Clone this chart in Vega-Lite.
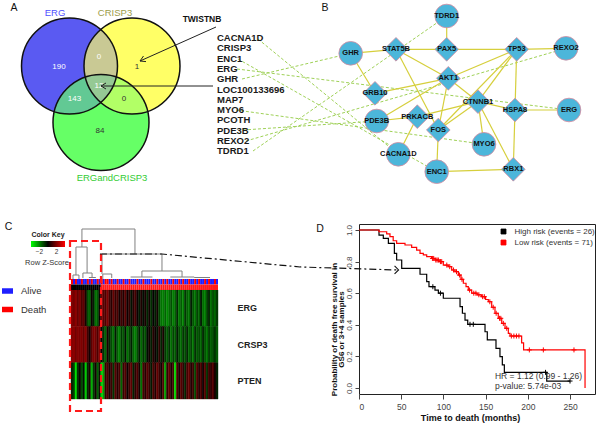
{
  "$schema": "https://vega.github.io/schema/vega-lite/v6.json",
  "padding": 0,
  "background": "white",
  "bounds": "flush",
  "spacing": 0,
  "resolve": {
    "scale": {"color": "independent", "fill": "independent", "stroke": "independent", "shape": "independent"},
    "legend": {"color": "independent", "fill": "independent", "stroke": "independent", "shape": "independent"}
  },
  "config": {"view": {"stroke": null}, "font": "Liberation Sans", "concat": {"spacing": 0}},
  "datasets": {
    "venn": [
      {"set": "ERG", "x": 69.5, "y": 66},
      {"set": "ERGandCRISP3", "x": 101, "y": 122.5},
      {"set": "CRISP3", "x": 132, "y": 66}
    ],
    "vennLabels": [
      {"set": "ERG", "x": 55, "y": 13},
      {"set": "CRISP3", "x": 115, "y": 13},
      {"set": "ERGandCRISP3", "x": 112, "y": 178}
    ],
    "vennCounts": [
      {"n": "190", "x": 59, "y": 67, "inERG": true},
      {"n": "0", "x": 99, "y": 57, "inERG": true},
      {"n": "1", "x": 137, "y": 67, "inERG": false},
      {"n": "12", "x": 99, "y": 86, "inERG": true},
      {"n": "143", "x": 74.5, "y": 99, "inERG": true},
      {"n": "0", "x": 124, "y": 99, "inERG": false},
      {"n": "84", "x": 100, "y": 131, "inERG": false}
    ],
    "arrows": [
      {"x": 216, "y": 27, "x2": 140, "y2": 61},
      {"x": 140, "y": 61, "x2": 146, "y2": 61.6},
      {"x": 140, "y": 61, "x2": 143.5, "y2": 56},
      {"x": 213, "y": 86, "x2": 101, "y2": 86},
      {"x": 101, "y": 86, "x2": 106, "y2": 83},
      {"x": 101, "y": 86, "x2": 106, "y2": 89}
    ],
    "genes": [
      {"gene": "CACNA1D", "x": 217, "y": 38},
      {"gene": "CRISP3", "x": 217, "y": 48.3},
      {"gene": "ENC1", "x": 217, "y": 58.6},
      {"gene": "ERG", "x": 217, "y": 68.9},
      {"gene": "GHR", "x": 217, "y": 79.2},
      {"gene": "LOC100133696", "x": 217, "y": 89.5},
      {"gene": "MAP7", "x": 217, "y": 99.8},
      {"gene": "MYO6", "x": 217, "y": 110.1},
      {"gene": "PCOTH", "x": 217, "y": 120.4},
      {"gene": "PDE3B", "x": 217, "y": 130.7},
      {"gene": "REXO2", "x": 217, "y": 141},
      {"gene": "TDRD1", "x": 217, "y": 151.3}
    ],
    "links": [
      {"gene": "CACNA1D", "x": 258, "y": 39},
      {"gene": "ENC1", "x": 238, "y": 59},
      {"gene": "ERG", "x": 237, "y": 69},
      {"gene": "GHR", "x": 242, "y": 79},
      {"gene": "MYO6", "x": 236, "y": 110},
      {"gene": "PDE3B", "x": 243, "y": 130},
      {"gene": "REXO2", "x": 246, "y": 141},
      {"gene": "TDRD1", "x": 253, "y": 151}
    ],
    "nodes": [
      {"id": "TDRD1", "x": 446.7, "y": 16, "kind": "seed"},
      {"id": "GHR", "x": 350.7, "y": 53.3, "kind": "seed"},
      {"id": "STAT5B", "x": 396, "y": 49.3, "kind": "linker"},
      {"id": "PAX5", "x": 446.7, "y": 49.3, "kind": "linker"},
      {"id": "TP53", "x": 516.7, "y": 49.3, "kind": "linker"},
      {"id": "REXO2", "x": 566, "y": 48.3, "kind": "seed"},
      {"id": "AKT1", "x": 448.3, "y": 78.3, "kind": "linker"},
      {"id": "GRB10", "x": 375, "y": 93.3, "kind": "linker"},
      {"id": "CTNNB1", "x": 478, "y": 101.7, "kind": "linker"},
      {"id": "HSPA8", "x": 515, "y": 110, "kind": "linker"},
      {"id": "ERG", "x": 569, "y": 110, "kind": "seed"},
      {"id": "PDE3B", "x": 376.7, "y": 121, "kind": "seed"},
      {"id": "PRKACB", "x": 417.3, "y": 116.7, "kind": "linker"},
      {"id": "FOS", "x": 438.3, "y": 130, "kind": "linker"},
      {"id": "MYO6", "x": 484, "y": 144.3, "kind": "seed"},
      {"id": "CACNA1D", "x": 398.3, "y": 154.3, "kind": "seed"},
      {"id": "ENC1", "x": 436.7, "y": 171.7, "kind": "seed"},
      {"id": "RBX1", "x": 513.3, "y": 169.3, "kind": "linker"}
    ],
    "edges": [
      {"source": "TDRD1", "target": "PAX5"},
      {"source": "GHR", "target": "STAT5B"},
      {"source": "STAT5B", "target": "PAX5"},
      {"source": "PAX5", "target": "TP53"},
      {"source": "TP53", "target": "REXO2"},
      {"source": "GHR", "target": "GRB10"},
      {"source": "STAT5B", "target": "AKT1"},
      {"source": "STAT5B", "target": "FOS"},
      {"source": "GRB10", "target": "AKT1"},
      {"source": "AKT1", "target": "TP53"},
      {"source": "AKT1", "target": "CTNNB1"},
      {"source": "AKT1", "target": "PDE3B"},
      {"source": "AKT1", "target": "FOS"},
      {"source": "TP53", "target": "CTNNB1"},
      {"source": "TP53", "target": "FOS"},
      {"source": "TP53", "target": "HSPA8"},
      {"source": "CTNNB1", "target": "PRKACB"},
      {"source": "CTNNB1", "target": "FOS"},
      {"source": "CTNNB1", "target": "HSPA8"},
      {"source": "CTNNB1", "target": "MYO6"},
      {"source": "CTNNB1", "target": "RBX1"},
      {"source": "HSPA8", "target": "ERG"},
      {"source": "HSPA8", "target": "RBX1"},
      {"source": "PDE3B", "target": "PRKACB"},
      {"source": "PRKACB", "target": "CACNA1D"},
      {"source": "FOS", "target": "ENC1"},
      {"source": "ENC1", "target": "RBX1"}
    ],
    "samples": [
      {"i": 0, "status": "Death", "cluster": "Cluster 1", "ERG": 2.0, "CRSP3": 2.0, "PTEN": -0.5},
      {"i": 1, "status": "Alive", "cluster": "Cluster 1", "ERG": 1.8, "CRSP3": 2.2, "PTEN": -1.0},
      {"i": 2, "status": "Death", "cluster": "Cluster 1", "ERG": 2.2, "CRSP3": 1.8, "PTEN": -3.5},
      {"i": 3, "status": "Alive", "cluster": "Cluster 1", "ERG": 1.6, "CRSP3": 2.1, "PTEN": -0.8},
      {"i": 4, "status": "Alive", "cluster": "Cluster 1", "ERG": 2.0, "CRSP3": 1.9, "PTEN": 0.2},
      {"i": 5, "status": "Death", "cluster": "Cluster 1", "ERG": 1.2, "CRSP3": 2.0, "PTEN": -1.2},
      {"i": 6, "status": "Alive", "cluster": "Cluster 1", "ERG": 1.5, "CRSP3": 1.6, "PTEN": -0.3},
      {"i": 7, "status": "Alive", "cluster": "Cluster 1", "ERG": 0.4, "CRSP3": 2.2, "PTEN": -3.2},
      {"i": 8, "status": "Death", "cluster": "Cluster 1", "ERG": -1.2, "CRSP3": 1.0, "PTEN": -0.6},
      {"i": 9, "status": "Alive", "cluster": "Cluster 1", "ERG": -1.6, "CRSP3": 0.3, "PTEN": 0.4},
      {"i": 10, "status": "Death", "cluster": "Cluster 1", "ERG": 0.2, "CRSP3": 1.4, "PTEN": -2.8},
      {"i": 11, "status": "Alive", "cluster": "Cluster 1", "ERG": -0.5, "CRSP3": 2.0, "PTEN": -0.9},
      {"i": 12, "status": "Alive", "cluster": "Cluster 1", "ERG": -1.8, "CRSP3": 1.8, "PTEN": 0.3},
      {"i": 13, "status": "Death", "cluster": "Cluster 1", "ERG": -1.4, "CRSP3": 1.2, "PTEN": -1.5},
      {"i": 14, "status": "Alive", "cluster": "Cluster 1", "ERG": 0.1, "CRSP3": 2.1, "PTEN": -0.2},
      {"i": 15, "status": "Death", "cluster": "Cluster 2", "ERG": 1.8, "CRSP3": 0.2, "PTEN": -3.4},
      {"i": 16, "status": "Alive", "cluster": "Cluster 2", "ERG": 1.4, "CRSP3": -0.8, "PTEN": -2.5},
      {"i": 17, "status": "Death", "cluster": "Cluster 2", "ERG": 1.2, "CRSP3": -1.6, "PTEN": 0.8},
      {"i": 18, "status": "Death", "cluster": "Cluster 2", "ERG": 2.0, "CRSP3": 0.4, "PTEN": 1.2},
      {"i": 19, "status": "Alive", "cluster": "Cluster 2", "ERG": 1.0, "CRSP3": -0.6, "PTEN": 0.4},
      {"i": 20, "status": "Death", "cluster": "Cluster 2", "ERG": 0.6, "CRSP3": -1.2, "PTEN": 1.0},
      {"i": 21, "status": "Alive", "cluster": "Cluster 2", "ERG": 1.6, "CRSP3": -1.8, "PTEN": -0.8},
      {"i": 22, "status": "Alive", "cluster": "Cluster 2", "ERG": 0.8, "CRSP3": -0.4, "PTEN": 1.4},
      {"i": 23, "status": "Death", "cluster": "Cluster 2", "ERG": 1.2, "CRSP3": -1.5, "PTEN": 0.6},
      {"i": 24, "status": "Alive", "cluster": "Cluster 2", "ERG": 0.3, "CRSP3": -2.0, "PTEN": 1.1},
      {"i": 25, "status": "Alive", "cluster": "Cluster 2", "ERG": 1.0, "CRSP3": -0.9, "PTEN": -1.6},
      {"i": 26, "status": "Death", "cluster": "Cluster 2", "ERG": 0.5, "CRSP3": -1.4, "PTEN": 0.9},
      {"i": 27, "status": "Alive", "cluster": "Cluster 2", "ERG": 1.4, "CRSP3": -0.3, "PTEN": 1.3},
      {"i": 28, "status": "Alive", "cluster": "Cluster 2", "ERG": 0.2, "CRSP3": -1.8, "PTEN": 0.2},
      {"i": 29, "status": "Death", "cluster": "Cluster 2", "ERG": 0.8, "CRSP3": -1.1, "PTEN": 1.0},
      {"i": 30, "status": "Alive", "cluster": "Cluster 2", "ERG": -0.3, "CRSP3": -0.5, "PTEN": 1.5},
      {"i": 31, "status": "Alive", "cluster": "Cluster 2", "ERG": 0.6, "CRSP3": -1.6, "PTEN": -0.5},
      {"i": 32, "status": "Alive", "cluster": "Cluster 2", "ERG": 1.1, "CRSP3": -2.0, "PTEN": 0.7},
      {"i": 33, "status": "Death", "cluster": "Cluster 2", "ERG": 0.2, "CRSP3": -1.2, "PTEN": 1.2},
      {"i": 34, "status": "Alive", "cluster": "Cluster 2", "ERG": -0.4, "CRSP3": -0.4, "PTEN": 0.3},
      {"i": 35, "status": "Alive", "cluster": "Cluster 2", "ERG": 0.5, "CRSP3": -1.7, "PTEN": -1.8},
      {"i": 36, "status": "Death", "cluster": "Cluster 2", "ERG": -0.2, "CRSP3": -0.8, "PTEN": 1.1},
      {"i": 37, "status": "Alive", "cluster": "Cluster 2", "ERG": 0.4, "CRSP3": -1.3, "PTEN": 0.6},
      {"i": 38, "status": "Alive", "cluster": "Cluster 2", "ERG": -0.6, "CRSP3": -0.2, "PTEN": 1.4},
      {"i": 39, "status": "Alive", "cluster": "Cluster 2", "ERG": 0.3, "CRSP3": 0.3, "PTEN": 0.8},
      {"i": 40, "status": "Death", "cluster": "Cluster 2", "ERG": -0.8, "CRSP3": -0.5, "PTEN": -0.4},
      {"i": 41, "status": "Alive", "cluster": "Cluster 2", "ERG": 0.1, "CRSP3": 0.6, "PTEN": 1.2},
      {"i": 42, "status": "Alive", "cluster": "Cluster 2", "ERG": -0.5, "CRSP3": 0.2, "PTEN": 0.5},
      {"i": 43, "status": "Death", "cluster": "Cluster 2", "ERG": 0.3, "CRSP3": -0.3, "PTEN": 1.6},
      {"i": 44, "status": "Alive", "cluster": "Cluster 2", "ERG": -1.0, "CRSP3": 0.8, "PTEN": 0.9},
      {"i": 45, "status": "Alive", "cluster": "Cluster 2", "ERG": -1.8, "CRSP3": -0.6, "PTEN": 0.2},
      {"i": 46, "status": "Death", "cluster": "Cluster 2", "ERG": -2.0, "CRSP3": 0.4, "PTEN": 1.3},
      {"i": 47, "status": "Alive", "cluster": "Cluster 2", "ERG": -1.5, "CRSP3": -0.9, "PTEN": -2.6},
      {"i": 48, "status": "Death", "cluster": "Cluster 2", "ERG": -2.2, "CRSP3": -1.4, "PTEN": 0.7},
      {"i": 49, "status": "Alive", "cluster": "Cluster 2", "ERG": -1.7, "CRSP3": -0.7, "PTEN": 1.5},
      {"i": 50, "status": "Alive", "cluster": "Cluster 2", "ERG": -1.2, "CRSP3": -1.8, "PTEN": 0.4},
      {"i": 51, "status": "Death", "cluster": "Cluster 2", "ERG": -2.0, "CRSP3": -1.0, "PTEN": 1.0},
      {"i": 52, "status": "Alive", "cluster": "Cluster 2", "ERG": -1.6, "CRSP3": -1.5, "PTEN": -3.6},
      {"i": 53, "status": "Alive", "cluster": "Cluster 2", "ERG": -0.6, "CRSP3": -0.4, "PTEN": 1.2},
      {"i": 54, "status": "Death", "cluster": "Cluster 2", "ERG": -1.9, "CRSP3": -1.2, "PTEN": 0.3},
      {"i": 55, "status": "Alive", "cluster": "Cluster 2", "ERG": -1.4, "CRSP3": -1.7, "PTEN": 1.4},
      {"i": 56, "status": "Death", "cluster": "Cluster 2", "ERG": -2.1, "CRSP3": -0.8, "PTEN": 0.8},
      {"i": 57, "status": "Alive", "cluster": "Cluster 2", "ERG": -0.8, "CRSP3": -1.3, "PTEN": -0.6},
      {"i": 58, "status": "Alive", "cluster": "Cluster 2", "ERG": -1.5, "CRSP3": -0.5, "PTEN": 1.1},
      {"i": 59, "status": "Death", "cluster": "Cluster 2", "ERG": -1.8, "CRSP3": -1.6, "PTEN": 1.6},
      {"i": 60, "status": "Alive", "cluster": "Cluster 2", "ERG": -0.4, "CRSP3": -1.0, "PTEN": 0.5},
      {"i": 61, "status": "Alive", "cluster": "Cluster 2", "ERG": -1.3, "CRSP3": -1.9, "PTEN": 1.0},
      {"i": 62, "status": "Death", "cluster": "Cluster 2", "ERG": -1.9, "CRSP3": -0.7, "PTEN": -1.2},
      {"i": 63, "status": "Alive", "cluster": "Cluster 2", "ERG": -1.0, "CRSP3": -1.4, "PTEN": 1.3},
      {"i": 64, "status": "Death", "cluster": "Cluster 2", "ERG": -1.6, "CRSP3": -1.1, "PTEN": 0.6},
      {"i": 65, "status": "Alive", "cluster": "Cluster 2", "ERG": -0.3, "CRSP3": -1.6, "PTEN": 1.2},
      {"i": 66, "status": "Alive", "cluster": "Cluster 2", "ERG": -1.7, "CRSP3": -0.6, "PTEN": 0.2},
      {"i": 67, "status": "Death", "cluster": "Cluster 2", "ERG": -2.0, "CRSP3": -1.3, "PTEN": 1.4},
      {"i": 68, "status": "Alive", "cluster": "Cluster 2", "ERG": -1.1, "CRSP3": -1.8, "PTEN": -0.8},
      {"i": 69, "status": "Death", "cluster": "Cluster 2", "ERG": -0.5, "CRSP3": -0.9, "PTEN": 1.0},
      {"i": 70, "status": "Alive", "cluster": "Cluster 2", "ERG": -1.8, "CRSP3": -1.5, "PTEN": 0.7},
      {"i": 71, "status": "Alive", "cluster": "Cluster 2", "ERG": -1.2, "CRSP3": -1.2, "PTEN": 1.3},
      {"i": 72, "status": "Death", "cluster": "Cluster 2", "ERG": -1.6, "CRSP3": -0.8, "PTEN": 0.4},
      {"i": 73, "status": "Alive", "cluster": "Cluster 2", "ERG": -0.9, "CRSP3": -1.4, "PTEN": -0.5}
    ],
    "dendro": [
      {"x1": 5.5, "x2": 32.2, "h1": 1.0, "h2": 1.0},
      {"x1": 5.5, "x2": 5.5, "h1": 1.0, "h2": 0.64},
      {"x1": 32.2, "x2": 32.2, "h1": 1.0, "h2": 0.5},
      {"x1": 2.5, "x2": 8.1, "h1": 0.64, "h2": 0.64},
      {"x1": 2.5, "x2": 2.5, "h1": 0.64, "h2": 0.08},
      {"x1": 8.1, "x2": 8.1, "h1": 0.64, "h2": 0.12},
      {"x1": 1.0, "x2": 4.0, "h1": 0.08, "h2": 0.08},
      {"x1": 1.0, "x2": 1.0, "h1": 0.08, "h2": 0.0},
      {"x1": 4.0, "x2": 4.0, "h1": 0.08, "h2": 0.0},
      {"x1": 6.0, "x2": 10.6, "h1": 0.12, "h2": 0.12},
      {"x1": 6.0, "x2": 6.0, "h1": 0.12, "h2": 0.02},
      {"x1": 10.6, "x2": 10.6, "h1": 0.12, "h2": 0.03},
      {"x1": 9.0, "x2": 12.5, "h1": 0.03, "h2": 0.03},
      {"x1": 15.6, "x2": 45.8, "h1": 0.5, "h2": 0.5},
      {"x1": 15.6, "x2": 15.6, "h1": 0.5, "h2": 0.1},
      {"x1": 45.8, "x2": 45.8, "h1": 0.5, "h2": 0.16},
      {"x1": 16.0, "x2": 20.5, "h1": 0.1, "h2": 0.1},
      {"x1": 16.0, "x2": 16.0, "h1": 0.1, "h2": 0.0},
      {"x1": 20.5, "x2": 20.5, "h1": 0.1, "h2": 0.02},
      {"x1": 35.7, "x2": 55.9, "h1": 0.16, "h2": 0.16},
      {"x1": 35.7, "x2": 35.7, "h1": 0.16, "h2": 0.04},
      {"x1": 55.9, "x2": 55.9, "h1": 0.16, "h2": 0.04},
      {"x1": 30.0, "x2": 41.0, "h1": 0.04, "h2": 0.04},
      {"x1": 50.0, "x2": 62.0, "h1": 0.04, "h2": 0.04},
      {"x1": 62.0, "x2": 70.0, "h1": 0.03, "h2": 0.03}
    ],
    "km": [
      {"group": "High risk (events = 26)", "t": 0, "s": 1.0},
      {"group": "High risk (events = 26)", "t": 23.7, "s": 0.968},
      {"group": "High risk (events = 26)", "t": 28.8, "s": 0.947},
      {"group": "High risk (events = 26)", "t": 34.8, "s": 0.916},
      {"group": "High risk (events = 26)", "t": 41.9, "s": 0.852},
      {"group": "High risk (events = 26)", "t": 44.6, "s": 0.81},
      {"group": "High risk (events = 26)", "t": 50.6, "s": 0.757},
      {"group": "High risk (events = 26)", "t": 72.3, "s": 0.72},
      {"group": "High risk (events = 26)", "t": 80.2, "s": 0.673},
      {"group": "High risk (events = 26)", "t": 82.9, "s": 0.641},
      {"group": "High risk (events = 26)", "t": 90, "s": 0.62},
      {"group": "High risk (events = 26)", "t": 94, "s": 0.6},
      {"group": "High risk (events = 26)", "t": 99.9, "s": 0.568},
      {"group": "High risk (events = 26)", "t": 119.7, "s": 0.515},
      {"group": "High risk (events = 26)", "t": 122.5, "s": 0.473},
      {"group": "High risk (events = 26)", "t": 125.6, "s": 0.43},
      {"group": "High risk (events = 26)", "t": 128.8, "s": 0.403},
      {"group": "High risk (events = 26)", "t": 149.3, "s": 0.356},
      {"group": "High risk (events = 26)", "t": 152, "s": 0.304},
      {"group": "High risk (events = 26)", "t": 162.3, "s": 0.251},
      {"group": "High risk (events = 26)", "t": 167, "s": 0.198},
      {"group": "High risk (events = 26)", "t": 169.8, "s": 0.146},
      {"group": "High risk (events = 26)", "t": 172.2, "s": 0.099},
      {"group": "High risk (events = 26)", "t": 222.4, "s": 0.044},
      {"group": "High risk (events = 26)", "t": 250, "s": 0.044},
      {"group": "Low risk (events = 71)", "t": 0, "s": 1.0},
      {"group": "Low risk (events = 71)", "t": 23.7, "s": 0.989},
      {"group": "Low risk (events = 71)", "t": 32.8, "s": 0.975},
      {"group": "Low risk (events = 71)", "t": 36.7, "s": 0.958},
      {"group": "Low risk (events = 71)", "t": 40.5, "s": 0.932},
      {"group": "Low risk (events = 71)", "t": 44.6, "s": 0.916},
      {"group": "Low risk (events = 71)", "t": 54.5, "s": 0.905},
      {"group": "Low risk (events = 71)", "t": 62.4, "s": 0.89},
      {"group": "Low risk (events = 71)", "t": 68.3, "s": 0.873},
      {"group": "Low risk (events = 71)", "t": 72.3, "s": 0.852},
      {"group": "Low risk (events = 71)", "t": 76.2, "s": 0.842},
      {"group": "Low risk (events = 71)", "t": 80.2, "s": 0.831},
      {"group": "Low risk (events = 71)", "t": 86, "s": 0.82},
      {"group": "Low risk (events = 71)", "t": 90, "s": 0.81},
      {"group": "Low risk (events = 71)", "t": 95, "s": 0.8},
      {"group": "Low risk (events = 71)", "t": 99.9, "s": 0.778},
      {"group": "Low risk (events = 71)", "t": 105.8, "s": 0.768},
      {"group": "Low risk (events = 71)", "t": 109.8, "s": 0.747},
      {"group": "Low risk (events = 71)", "t": 113.7, "s": 0.736},
      {"group": "Low risk (events = 71)", "t": 117.7, "s": 0.715},
      {"group": "Low risk (events = 71)", "t": 120.8, "s": 0.688},
      {"group": "Low risk (events = 71)", "t": 123.6, "s": 0.663},
      {"group": "Low risk (events = 71)", "t": 126.8, "s": 0.641},
      {"group": "Low risk (events = 71)", "t": 129.5, "s": 0.62},
      {"group": "Low risk (events = 71)", "t": 133.5, "s": 0.6},
      {"group": "Low risk (events = 71)", "t": 140, "s": 0.59},
      {"group": "Low risk (events = 71)", "t": 145, "s": 0.578},
      {"group": "Low risk (events = 71)", "t": 150, "s": 0.56},
      {"group": "Low risk (events = 71)", "t": 153.2, "s": 0.546},
      {"group": "Low risk (events = 71)", "t": 157.2, "s": 0.511},
      {"group": "Low risk (events = 71)", "t": 161.1, "s": 0.473},
      {"group": "Low risk (events = 71)", "t": 165, "s": 0.441},
      {"group": "Low risk (events = 71)", "t": 169.1, "s": 0.409},
      {"group": "Low risk (events = 71)", "t": 173, "s": 0.378},
      {"group": "Low risk (events = 71)", "t": 176.9, "s": 0.346},
      {"group": "Low risk (events = 71)", "t": 178.9, "s": 0.329},
      {"group": "Low risk (events = 71)", "t": 192.7, "s": 0.285},
      {"group": "Low risk (events = 71)", "t": 195, "s": 0.241},
      {"group": "Low risk (events = 71)", "t": 267.8, "s": 0.0}
    ],
    "censor": [
      {"group": "High risk (events = 26)", "t": 87.5, "s": 0.641},
      {"group": "High risk (events = 26)", "t": 96.5, "s": 0.6},
      {"group": "High risk (events = 26)", "t": 131.5, "s": 0.403},
      {"group": "High risk (events = 26)", "t": 135.4, "s": 0.403},
      {"group": "High risk (events = 26)", "t": 221, "s": 0.099},
      {"group": "High risk (events = 26)", "t": 250, "s": 0.044},
      {"group": "Low risk (events = 71)", "t": 87, "s": 0.82},
      {"group": "Low risk (events = 71)", "t": 88.5, "s": 0.82},
      {"group": "Low risk (events = 71)", "t": 91, "s": 0.81},
      {"group": "Low risk (events = 71)", "t": 92.5, "s": 0.81},
      {"group": "Low risk (events = 71)", "t": 94, "s": 0.81},
      {"group": "Low risk (events = 71)", "t": 96.5, "s": 0.8},
      {"group": "Low risk (events = 71)", "t": 98, "s": 0.8},
      {"group": "Low risk (events = 71)", "t": 104, "s": 0.778},
      {"group": "Low risk (events = 71)", "t": 107.5, "s": 0.768},
      {"group": "Low risk (events = 71)", "t": 112, "s": 0.747},
      {"group": "Low risk (events = 71)", "t": 115.5, "s": 0.736},
      {"group": "Low risk (events = 71)", "t": 119, "s": 0.715},
      {"group": "Low risk (events = 71)", "t": 122, "s": 0.688},
      {"group": "Low risk (events = 71)", "t": 131, "s": 0.62},
      {"group": "Low risk (events = 71)", "t": 136, "s": 0.6},
      {"group": "Low risk (events = 71)", "t": 138.5, "s": 0.6},
      {"group": "Low risk (events = 71)", "t": 142, "s": 0.59},
      {"group": "Low risk (events = 71)", "t": 146.5, "s": 0.578},
      {"group": "Low risk (events = 71)", "t": 148.5, "s": 0.578},
      {"group": "Low risk (events = 71)", "t": 155, "s": 0.546},
      {"group": "Low risk (events = 71)", "t": 159, "s": 0.511},
      {"group": "Low risk (events = 71)", "t": 162.5, "s": 0.473},
      {"group": "Low risk (events = 71)", "t": 166.5, "s": 0.441},
      {"group": "Low risk (events = 71)", "t": 168, "s": 0.441},
      {"group": "Low risk (events = 71)", "t": 171, "s": 0.409},
      {"group": "Low risk (events = 71)", "t": 175, "s": 0.378},
      {"group": "Low risk (events = 71)", "t": 180.5, "s": 0.329},
      {"group": "Low risk (events = 71)", "t": 183.5, "s": 0.329},
      {"group": "Low risk (events = 71)", "t": 186.5, "s": 0.329},
      {"group": "Low risk (events = 71)", "t": 189.5, "s": 0.329},
      {"group": "Low risk (events = 71)", "t": 201.8, "s": 0.241},
      {"group": "Low risk (events = 71)", "t": 218.4, "s": 0.241},
      {"group": "Low risk (events = 71)", "t": 254.7, "s": 0.241}
    ],
    "connector": [
      {"t": -306.9, "s": 0.848},
      {"t": -233.4, "s": 0.848},
      {"t": -69.9, "s": 0.766},
      {"t": 44.5, "s": 0.747}
    ]
  },
  "vconcat": [
    {
      "width": 600,
      "height": 224,
      "encoding": {
        "x": {"field": "x", "type": "quantitative", "scale": {"domain": [0, 600], "nice": false, "zero": false}, "axis": null},
        "y": {"field": "y", "type": "quantitative", "scale": {"domain": [0, 224], "nice": false, "zero": false, "reverse": true}, "axis": null}
      },
      "layer": [
        {
          "data": {"name": "venn"},
          "mark": {"type": "point", "filled": true, "size": 9216, "opacity": 1, "strokeWidth": 0},
          "encoding": {"color": {"field": "set", "type": "nominal", "scale": {"domain": ["ERG", "CRISP3", "ERGandCRISP3"], "range": ["#5a5af2", "#ffff66", "#66ff66"]}, "legend": null}}
        },
        {
          "data": {"name": "venn"},
          "transform": [{"filter": "datum.set == 'ERGandCRISP3'"}],
          "mark": {"type": "point", "filled": true, "size": 9216, "opacity": 0.5, "strokeWidth": 0},
          "encoding": {"color": {"field": "set", "type": "nominal", "legend": null}}
        },
        {
          "data": {"name": "venn"},
          "transform": [{"filter": "datum.set == 'ERG'"}],
          "mark": {"type": "point", "filled": true, "size": 9216, "opacity": 0.33, "strokeWidth": 0},
          "encoding": {"color": {"field": "set", "type": "nominal", "legend": null}}
        },
        {
          "data": {"name": "venn"},
          "mark": {"type": "point", "filled": false, "size": 9216, "opacity": 1, "color": "#111111", "strokeWidth": 1.5}
        },
        {
          "data": {"name": "vennLabels"},
          "mark": {"type": "text", "fontSize": 9.5},
          "encoding": {
            "text": {"field": "set"},
            "fill": {"field": "set", "type": "nominal", "scale": {"domain": ["ERG", "CRISP3", "ERGandCRISP3"], "range": ["#4f4fff", "#9c9c4a", "#33cc33"]}, "legend": null}
          }
        },
        {
          "data": {"name": "vennCounts"},
          "mark": {"type": "text", "fontSize": 8},
          "encoding": {
            "text": {"field": "n"},
            "color": {"condition": {"test": "datum.inERG", "value": "#ffffff"}, "value": "#333333"}
          }
        },
        {
          "data": {"name": "arrows"},
          "mark": {"type": "rule", "color": "#222222", "strokeWidth": 1},
          "encoding": {"x2": {"field": "x2"}, "y2": {"field": "y2"}}
        },
        {
          "data": {"values": [{"label": "TWISTNB", "x": 202, "y": 19}]},
          "mark": {"type": "text", "fontSize": 8.5, "fontWeight": "bold", "color": "#111111"},
          "encoding": {"text": {"field": "label"}}
        },
        {
          "data": {"name": "links"},
          "transform": [{"lookup": "gene", "from": {"data": {"name": "nodes"}, "key": "id", "fields": ["x", "y"]}, "as": ["x2", "y2"]}],
          "mark": {"type": "rule", "color": "#9fd157", "strokeWidth": 1, "strokeDash": [3, 2]},
          "encoding": {"x2": {"field": "x2"}, "y2": {"field": "y2"}}
        },
        {
          "data": {"name": "genes"},
          "mark": {"type": "text", "fontSize": 9.5, "fontWeight": "bold", "align": "left", "color": "#1a1a1a"},
          "encoding": {"text": {"field": "gene"}}
        },
        {
          "data": {"name": "edges"},
          "transform": [
            {"lookup": "source", "from": {"data": {"name": "nodes"}, "key": "id", "fields": ["x", "y"]}, "as": ["x", "y"]},
            {"lookup": "target", "from": {"data": {"name": "nodes"}, "key": "id", "fields": ["x", "y"]}, "as": ["x2", "y2"]}
          ],
          "mark": {"type": "rule", "color": "#d6cf3c", "strokeWidth": 1.2},
          "encoding": {"x2": {"field": "x2"}, "y2": {"field": "y2"}}
        },
        {
          "data": {"name": "nodes"},
          "mark": {"type": "point", "filled": true, "size": 560, "opacity": 1, "fill": "#4cb6da", "stroke": "#d98a9e", "strokeWidth": 0.8},
          "encoding": {"shape": {"field": "kind", "type": "nominal", "scale": {"domain": ["seed", "linker"], "range": ["circle", "diamond"]}, "legend": null}}
        },
        {
          "data": {"name": "nodes"},
          "mark": {"type": "text", "fontSize": 7.5, "fontWeight": "bold", "color": "#111111"},
          "encoding": {"text": {"field": "id"}}
        },
        {
          "data": {"values": [{"label": "A", "x": 14, "y": 8}, {"label": "B", "x": 325, "y": 8}]},
          "mark": {"type": "text", "fontSize": 10.5, "color": "#111111"},
          "encoding": {"text": {"field": "label"}}
        }
      ]
    },
    {
      "spacing": 141,
      "bounds": "flush",
      "resolve": {
        "scale": {"color": "independent", "fill": "independent", "stroke": "independent", "shape": "independent"},
        "legend": {"color": "independent", "fill": "independent", "stroke": "independent", "shape": "independent"}
      },
      "hconcat": [
        {
          "width": 218,
          "height": 202,
          "layer": [
            {
              "data": {"name": "samples"},
              "transform": [{"fold": ["ERG", "CRSP3", "PTEN"], "as": ["gene", "z"]}],
              "mark": {"type": "rect", "strokeWidth": 0.4},
              "encoding": {
                "x": {"field": "i", "type": "ordinal", "scale": {"range": [71, 218], "paddingInner": 0, "paddingOuter": 0}, "axis": null},
                "y": {"field": "gene", "type": "nominal", "sort": ["ERG", "CRSP3", "PTEN"], "scale": {"range": [66, 175], "paddingInner": 0, "paddingOuter": 0},
                      "axis": {"orient": "right", "title": null, "domain": false, "ticks": false, "labelPadding": 19, "labelFontSize": 9, "labelFontWeight": "bold", "labelColor": "#222222"}},
                "color": {"field": "z", "type": "quantitative", "scale": {"domain": [-4, 0, 4], "range": ["#00ff00", "#000000", "#ff0000"], "interpolate": "rgb"},
                          "legend": {"orient": "none", "legendX": 31, "legendY": 7, "direction": "horizontal", "gradientLength": 34, "gradientThickness": 6,
                                     "title": "Color Key", "titleFontSize": 7, "titleFontWeight": "bold", "titleColor": "#222222", "titleAnchor": "middle", "titlePadding": 3,
                                     "values": [-2, 2], "labelFontSize": 6.5, "labelColor": "#333333", "labelOffset": 2, "gradientStrokeWidth": 0}},
                "stroke": {"field": "z", "type": "quantitative", "scale": {"domain": [-4, 0, 4], "range": ["#00ff00", "#000000", "#ff0000"], "interpolate": "rgb"}, "legend": null}
              }
            },
            {
              "data": {"name": "samples"},
              "transform": [{"fold": ["status", "cluster"], "as": ["row", "cat"]}],
              "mark": {"type": "rect", "strokeWidth": 0},
              "encoding": {
                "x": {"field": "i", "type": "ordinal", "scale": {"range": [71, 218], "paddingInner": 0, "paddingOuter": 0}, "axis": null},
                "y": {"field": "row", "type": "nominal", "sort": ["status", "cluster"], "scale": {"range": [55, 66], "paddingInner": 0, "paddingOuter": 0}, "axis": null},
                "color": {"field": "cat", "type": "nominal", "scale": {"domain": ["Alive", "Death", "Cluster 1", "Cluster 2"], "range": ["#1f1fff", "#ff0000", "#000000", "#ff1a1a"]},
                          "legend": {"orient": "none", "legendX": 2, "legendY": 61.5, "values": ["Alive", "Death"], "title": null,
                                     "symbolType": "M-1,-0.5H1V0.5H-1Z", "symbolSize": 121, "symbolStrokeWidth": 0, "symbolOpacity": 1,
                                     "labelFontSize": 9.5, "labelColor": "#333333", "labelOffset": 8, "rowPadding": 8.5}}
              }
            },
            {
              "encoding": {
                "x": {"field": "x1", "type": "quantitative", "scale": {"domain": [0, 74], "range": [71, 218], "nice": false, "zero": false}, "axis": null},
                "y": {"field": "h1", "type": "quantitative", "scale": {"domain": [0, 1], "range": [55, 5], "nice": false, "zero": false}, "axis": null}
              },
              "layer": [
                {
                  "data": {"name": "dendro"},
                  "mark": {"type": "rule", "color": "#808080", "strokeWidth": 1},
                  "encoding": {"x2": {"field": "x2"}, "y2": {"field": "h2"}}
                },
                {
                  "data": {"values": [{"x1": -0.5, "x2": 15.1, "h1": 0.76, "h2": -2.64}]},
                  "mark": {"type": "rect", "fill": "transparent", "stroke": "#ff1a1a", "strokeWidth": 2.2, "strokeDash": [7, 4]},
                  "encoding": {"x2": {"field": "x2"}, "y2": {"field": "h2"}}
                },
                {
                  "data": {"values": [{"x1": -33.3, "h1": 1.04, "label": "C"}]},
                  "mark": {"type": "text", "fontSize": 10.5, "align": "left", "color": "#111111"},
                  "encoding": {"text": {"field": "label"}}
                },
                {
                  "data": {"values": [{"x1": -12.1, "h1": 0.32, "label": "Row Z-Score"}]},
                  "mark": {"type": "text", "fontSize": 7.5, "color": "#333333"},
                  "encoding": {"text": {"field": "label"}}
                }
              ]
            }
          ],
          "resolve": {
            "scale": {"x": "independent", "y": "independent", "color": "independent"},
            "axis": {"x": "independent", "y": "independent"},
            "legend": {"color": "independent"}
          }
        },
        {
          "width": 236,
          "height": 170,
          "view": {"stroke": "#222222", "strokeWidth": 1},
          "encoding": {
            "x": {"field": "t", "type": "quantitative", "scale": {"domain": [0, 279.6], "nice": false, "zero": false},
                  "axis": {"values": [0, 50, 100, 150, 200, 250], "labelFontSize": 8.5, "labelColor": "#444444", "tickSize": 5, "tickColor": "#444444",
                           "domain": false, "grid": false, "labelPadding": 3, "title": "Time to death (months)", "titleFontSize": 9, "titleFontWeight": "bold",
                           "titleColor": "#111111", "titlePadding": 3, "titleX": 111}},
            "y": {"field": "s", "type": "quantitative", "scale": {"domain": [-0.038, 1.038], "nice": false, "zero": false},
                  "axis": {"values": [0, 0.2, 0.4, 0.6, 0.8, 1.0], "format": ".1f", "labelAngle": -90, "labelAlign": "center", "labelBaseline": "bottom",
                           "labelFontSize": 8, "labelColor": "#444444", "labelPadding": 2, "tickSize": 4, "tickColor": "#444444", "domain": false, "grid": false,
                           "title": ["Probability of death free survival in", "GS6 or 3+4 samples"], "titleFontSize": 8, "titleFontWeight": "bold",
                           "titleColor": "#111111", "titleAngle": -90, "titleX": -25, "titleY": 105, "titleAlign": "center", "titleBaseline": "middle", "titleLineHeight": 7.5}}
          },
          "layer": [
            {
              "data": {"name": "km"},
              "mark": {"type": "line", "interpolate": "step-after", "strokeWidth": 1.2},
              "encoding": {
                "color": {"field": "group", "type": "nominal", "scale": {"domain": ["High risk (events = 26)", "Low risk (events = 71)"], "range": ["#000000", "#ff0000"]},
                          "legend": {"orient": "none", "legendX": 140.5, "legendY": 3.5, "title": null, "symbolType": "square", "symbolSize": 25,
                                     "labelFontSize": 8, "labelColor": "#333333", "labelOffset": 7, "rowPadding": 1, "symbolStrokeWidth": 0.8,
                                     "encode": {"symbols": {"update": {"fill": {"signal": "datum.value == 'High risk (events = 26)' ? '#000000' : '#ff0000'"}, "fillOpacity": {"value": 1}, "stroke": {"value": "#000000"}, "opacity": {"value": 1}}}}}}
              }
            },
            {
              "data": {"name": "censor"},
              "mark": {"type": "point", "shape": "M-1,0L1,0M0,-1L0,1", "filled": false, "size": 25, "strokeWidth": 1, "opacity": 1},
              "encoding": {"color": {"field": "group", "type": "nominal"}}
            },
            {
              "data": {"name": "connector"},
              "mark": {"type": "line", "color": "#111111", "strokeWidth": 1.2, "strokeDash": [7, 3, 2, 3]}
            },
            {
              "data": {"values": [{"t": 44.5, "s": 0.747}]},
              "mark": {"type": "point", "shape": "M-0.5,-1L0.5,0L-0.5,1", "filled": false, "size": 64, "strokeWidth": 1.1, "color": "#111111", "opacity": 1}
            },
            {
              "data": {"values": [{"t": 161.1, "s": 0.076, "label": "HR = 1.12 (0.99 - 1.26)"}, {"t": 161.1, "s": 0.013, "label": "p-value: 5.74e-03"}]},
              "mark": {"type": "text", "align": "left", "fontSize": 8.5, "color": "#333333"},
              "encoding": {"text": {"field": "label"}}
            },
            {
              "data": {"values": [{"t": -46.2, "s": 1.006, "label": "D"}]},
              "mark": {"type": "text", "fontSize": 10.5, "color": "#111111"},
              "encoding": {"text": {"field": "label"}}
            }
          ]
        }
      ]
    }
  ]
}
